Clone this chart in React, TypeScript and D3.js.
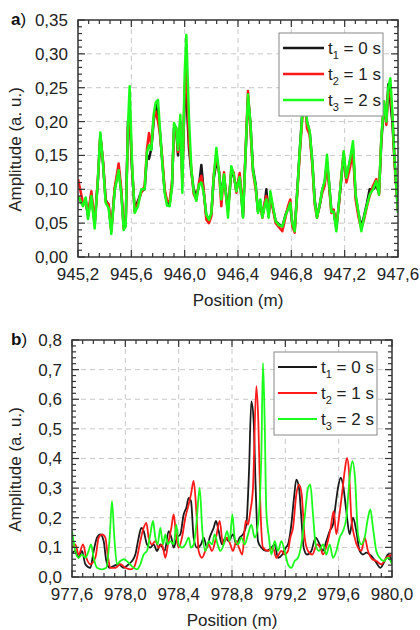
import React from 'react';
import * as d3 from 'd3';

// panel a) positions shared by all three traces
const topPos = [
  945.2, 945.2375, 945.2575, 945.275, 945.3, 945.325, 945.35, 945.3675, 945.3875, 945.4075,
  945.43, 945.45, 945.475, 945.505, 945.525, 945.5425, 945.5575, 945.575, 945.5875, 945.605,
  945.625, 945.65, 945.675, 945.7, 945.7175, 945.7325, 945.75, 945.7675, 945.7825, 945.8,
  945.8125, 945.8325, 945.85, 945.8675, 945.8875, 945.905, 945.92, 945.9375, 945.95, 945.9675,
  945.9825, 946.0, 946.0125, 946.0325, 946.05, 946.0675, 946.0875, 946.1075, 946.125, 946.1425,
  946.1625, 946.1825, 946.2, 946.2175, 946.2375, 946.2575, 946.275, 946.295, 946.3125, 946.325,
  946.35, 946.3675, 946.3875,
  946.4125, 946.4375, 946.4575, 946.475, 946.4925, 946.5125, 946.5325, 946.55, 946.5675, 946.5825,
  946.6, 946.6125, 946.63, 946.6425, 946.6625, 946.6825, 946.7075, 946.7325, 946.7575, 946.775,
  946.7925, 946.8075, 946.825, 946.845, 946.8625, 946.8825, 946.9, 946.9175, 946.9375, 946.9575,
  946.975, 946.9925, 947.0125, 947.0325, 947.05, 947.0675, 947.0825, 947.1, 947.1175, 947.1375,
  947.1575, 947.175, 947.1925, 947.2125, 947.2375, 947.2625, 947.2825, 947.3025, 947.325, 947.345,
  947.3675, 947.3875, 947.4125, 947.4375, 947.4575, 947.475, 947.495, 947.5125, 947.5275, 947.5425,
  947.5575, 947.575, 947.6,
];
const topT1 = [
  0.09, 0.077, 0.085, 0.06, 0.093, 0.048, 0.115, 0.18, 0.14, 0.085,
  0.075, 0.04, 0.1, 0.13, 0.095, 0.045, 0.05, 0.2, 0.21, 0.13,
  0.07, 0.083, 0.097, 0.1, 0.15, 0.145, 0.16, 0.2, 0.225, 0.21,
  0.19, 0.14, 0.097, 0.08, 0.078, 0.105, 0.19, 0.185, 0.15, 0.2,
  0.12, 0.235, 0.24, 0.16, 0.125, 0.1, 0.09, 0.105, 0.136, 0.097,
  0.06, 0.055, 0.063, 0.115, 0.14, 0.127, 0.09, 0.12, 0.09, 0.07,
  0.125, 0.12, 0.1,
  0.12, 0.06, 0.155, 0.235, 0.2, 0.13, 0.107, 0.067, 0.082, 0.06,
  0.077, 0.1, 0.06, 0.09, 0.072, 0.053, 0.048, 0.045, 0.063, 0.072,
  0.075, 0.048, 0.04, 0.1, 0.155, 0.215, 0.24, 0.2, 0.185, 0.14,
  0.085, 0.06, 0.075, 0.1, 0.11, 0.14, 0.11, 0.07, 0.068, 0.042,
  0.08, 0.115, 0.15, 0.115, 0.14, 0.16, 0.09, 0.065, 0.045, 0.06,
  0.08, 0.1, 0.1, 0.105, 0.095, 0.17, 0.225, 0.2, 0.255, 0.23,
  0.2, 0.14, 0.067,
];
const topT2 = [
  0.115, 0.08, 0.082, 0.062, 0.097, 0.05, 0.118, 0.178, 0.142, 0.082,
  0.078, 0.038, 0.102, 0.138, 0.1, 0.042, 0.048, 0.19, 0.22, 0.136,
  0.067, 0.08, 0.095, 0.105, 0.16, 0.183, 0.165, 0.205, 0.215, 0.2,
  0.185, 0.145, 0.1, 0.083, 0.082, 0.11, 0.185, 0.19, 0.155, 0.195,
  0.11, 0.25, 0.28, 0.17, 0.13, 0.093, 0.085, 0.11, 0.12, 0.1,
  0.055, 0.05, 0.06, 0.12, 0.15, 0.125, 0.075, 0.125, 0.085, 0.068,
  0.13, 0.125, 0.095,
  0.124, 0.065, 0.16, 0.245, 0.19, 0.125, 0.1, 0.07, 0.078, 0.058,
  0.08, 0.09, 0.062, 0.093, 0.07, 0.05, 0.044, 0.038, 0.06, 0.075,
  0.085, 0.045, 0.036, 0.095, 0.15, 0.205, 0.235, 0.19, 0.18, 0.135,
  0.078, 0.058, 0.078, 0.095, 0.105, 0.14, 0.105, 0.065, 0.07, 0.045,
  0.078, 0.12, 0.155, 0.11, 0.13, 0.155, 0.085, 0.06, 0.042, 0.055,
  0.075, 0.09, 0.105, 0.115, 0.092, 0.175, 0.23, 0.195, 0.245, 0.24,
  0.21, 0.135, 0.07,
];
const topT3 = [
  0.09, 0.075, 0.088, 0.056, 0.09, 0.042, 0.117, 0.184, 0.138, 0.08,
  0.072, 0.034, 0.098, 0.128, 0.093, 0.04, 0.045, 0.195, 0.252, 0.14,
  0.065, 0.075, 0.1, 0.1, 0.155, 0.165, 0.158, 0.21, 0.228, 0.232,
  0.195, 0.138, 0.095, 0.076, 0.075, 0.103, 0.198, 0.19, 0.158, 0.21,
  0.095, 0.27, 0.328, 0.205, 0.13, 0.097, 0.083, 0.107, 0.11, 0.095,
  0.063, 0.055, 0.065, 0.117, 0.161, 0.125, 0.085, 0.122, 0.087, 0.058,
  0.134, 0.122, 0.097,
  0.118, 0.058, 0.156, 0.24, 0.2, 0.127, 0.105, 0.065, 0.085, 0.058,
  0.075, 0.085, 0.058, 0.097, 0.074, 0.053, 0.047, 0.045, 0.062, 0.07,
  0.08, 0.05, 0.038, 0.097, 0.156, 0.21, 0.245, 0.2, 0.186, 0.141,
  0.082, 0.058, 0.077, 0.1, 0.112, 0.151, 0.112, 0.067, 0.067, 0.038,
  0.082, 0.117, 0.156, 0.117, 0.141, 0.171, 0.092, 0.067, 0.038, 0.058,
  0.077, 0.092, 0.1, 0.112, 0.092, 0.176, 0.23, 0.2, 0.25, 0.264,
  0.215, 0.141, 0.065,
];

// panel b) each trace has its own positions
const botPos1 = [
  977.6, 977.625, 977.65, 977.675, 977.7, 977.7375, 977.7625, 977.7875, 977.8125, 977.8375,
  977.8575, 977.8825, 977.9125, 977.95, 977.9875, 978.025, 978.05, 978.075, 978.1, 978.12,
  978.1375, 978.1625, 978.1875, 978.2125, 978.2375, 978.2625, 978.295, 978.325, 978.345, 978.3625,
  978.3875, 978.4125, 978.4375, 978.4575, 978.475, 978.4925, 978.5125, 978.5375, 978.5675, 978.5875,
  978.6125, 978.6325, 978.6625, 978.68, 978.7, 978.725, 978.75, 978.775,
  978.8075, 978.8325, 978.8575, 978.8825, 978.9075, 978.9275, 978.945, 978.9625, 978.9775, 978.995,
  979.02, 979.0575, 979.095, 979.12, 979.145, 979.1775, 979.2025, 979.22, 979.245, 979.265,
  979.2825, 979.3025, 979.32, 979.3375, 979.3625, 979.395, 979.4275, 979.4575, 979.4825, 979.5075,
  979.5325, 979.5575, 979.5775, 979.595, 979.615, 979.6325, 979.6575, 979.6825, 979.7075, 979.7325,
  979.7575, 979.7825, 979.8075, 979.8325, 979.8575, 979.8825, 979.9125, 979.945, 979.97, 980.0,
];
const botT1 = [
  0.08, 0.088, 0.065, 0.088, 0.043, 0.031, 0.088, 0.133, 0.144, 0.121,
  0.054, 0.031, 0.037, 0.043, 0.031, 0.043, 0.054, 0.076, 0.133, 0.166,
  0.155, 0.11, 0.099, 0.11, 0.088, 0.11, 0.088, 0.155, 0.133, 0.099,
  0.133, 0.144, 0.211, 0.234, 0.267, 0.256, 0.133, 0.099, 0.11, 0.133,
  0.099, 0.133, 0.166, 0.189, 0.155, 0.11, 0.133, 0.121,
  0.144, 0.11, 0.133, 0.144, 0.177, 0.356, 0.593, 0.526, 0.301, 0.121,
  0.099, 0.088, 0.099, 0.11, 0.065, 0.076, 0.099, 0.11, 0.177, 0.267,
  0.329, 0.301, 0.2, 0.099, 0.076, 0.088, 0.133, 0.11, 0.088, 0.121,
  0.155, 0.177, 0.245, 0.301, 0.335, 0.312, 0.222, 0.144, 0.2, 0.155,
  0.088, 0.076, 0.082, 0.076, 0.065, 0.048, 0.031, 0.054, 0.076, 0.054,
];
const botPos2 = [
  977.6, 977.625, 977.65, 977.6825, 977.7075, 977.7375, 977.775, 977.8, 977.825, 977.85,
  977.8675, 977.8875, 977.925, 977.9625, 978.0, 978.0375, 978.0625, 978.0875, 978.1125, 978.1375,
  978.1575, 978.175, 978.2, 978.225, 978.25, 978.275, 978.3, 978.32, 978.345, 978.3625,
  978.3825, 978.4, 978.425, 978.45, 978.475, 978.4925, 978.5125, 978.5325, 978.55, 978.575,
  978.6, 978.625, 978.65, 978.68, 978.7075, 978.7325, 978.7625, 978.7875,
  978.8075, 978.8325, 978.8525, 978.8775, 978.9025, 978.92, 978.9375, 978.9575, 978.9825, 978.9975,
  979.0125, 979.0325, 979.07, 979.1075, 979.1325, 979.17, 979.195, 979.22, 979.2375, 979.2575,
  979.2825, 979.3025, 979.3225, 979.345, 979.37, 979.4025, 979.4375, 979.4625, 979.4825, 979.5125,
  979.54, 979.5625, 979.5825, 979.6025, 979.6275, 979.645, 979.6625, 979.6775, 979.695, 979.72,
  979.745, 979.77, 979.795, 979.82, 979.8525, 979.8825, 979.92, 979.9575, 980.0,
];
const botT2 = [
  0.099, 0.11, 0.076, 0.11, 0.065, 0.043, 0.065, 0.133, 0.144, 0.133,
  0.076, 0.031, 0.031, 0.043, 0.031, 0.026, 0.031, 0.065, 0.121, 0.166,
  0.183, 0.133, 0.11, 0.121, 0.099, 0.11, 0.065, 0.11, 0.166, 0.211,
  0.133, 0.099, 0.133, 0.2, 0.245, 0.279, 0.324, 0.222, 0.088, 0.065,
  0.088, 0.11, 0.088, 0.133, 0.189, 0.11, 0.133, 0.11,
  0.088, 0.121, 0.099, 0.076, 0.189, 0.177, 0.222, 0.301, 0.644, 0.526,
  0.245, 0.099, 0.088, 0.099, 0.065, 0.088, 0.076, 0.088, 0.133, 0.166,
  0.279, 0.312, 0.279, 0.133, 0.088, 0.076, 0.11, 0.099, 0.076, 0.11,
  0.166, 0.222, 0.144, 0.2, 0.29, 0.357, 0.402, 0.357, 0.2, 0.133,
  0.099, 0.088, 0.133, 0.088, 0.06, 0.054, 0.043, 0.065, 0.076,
];
const botPos3 = [
  977.6, 977.625, 977.65, 977.675, 977.7, 977.725, 977.7425, 977.7625, 977.7875, 977.825,
  977.8575, 977.8825, 977.9, 977.9175, 977.9375, 977.9625, 977.9875, 978.025, 978.0625, 978.0875,
  978.1125, 978.1375, 978.1625, 978.1875, 978.2075, 978.225, 978.2425, 978.2625, 978.2825, 978.3,
  978.3175, 978.3375, 978.3625, 978.3825, 978.4, 978.425, 978.45, 978.475, 978.4925, 978.5125,
  978.5325, 978.5575, 978.5775, 978.6, 978.625, 978.65, 978.67, 978.6925, 978.7125, 978.7375,
  978.7625, 978.7825,
  978.8025, 978.82, 978.845, 978.87, 978.895, 978.92, 978.945, 978.97, 978.995, 979.02,
  979.0325, 979.045, 979.0575, 979.0775, 979.095, 979.12, 979.145, 979.17, 979.195, 979.22,
  979.245, 979.27, 979.295, 979.32, 979.345, 979.37, 979.3875, 979.4075, 979.4275, 979.4525,
  979.4825, 979.5075, 979.5325, 979.5575, 979.5825, 979.6075, 979.6325, 979.6575, 979.6825, 979.7025,
  979.7225, 979.745, 979.77, 979.795, 979.82, 979.8375, 979.8575, 979.8825, 979.9075, 979.9375,
  979.97, 980.0,
];
const botT3 = [
  0.155, 0.088, 0.065, 0.076, 0.065, 0.088, 0.11, 0.065, 0.031, 0.026,
  0.031, 0.133, 0.256, 0.133, 0.043, 0.054, 0.06, 0.048, 0.031, 0.026,
  0.043, 0.076, 0.088, 0.144, 0.189, 0.133, 0.11, 0.166, 0.11, 0.144,
  0.11, 0.121, 0.11, 0.177, 0.11, 0.099, 0.11, 0.133, 0.099, 0.11,
  0.177, 0.301, 0.155, 0.088, 0.121, 0.11, 0.144, 0.11, 0.088, 0.11,
  0.155, 0.121,
  0.211, 0.133, 0.11, 0.133, 0.11, 0.144, 0.177, 0.133, 0.177, 0.413,
  0.722, 0.526, 0.222, 0.133, 0.076, 0.121, 0.088, 0.121, 0.088, 0.043,
  0.031, 0.054, 0.065, 0.11, 0.2, 0.301, 0.312, 0.211, 0.11, 0.088,
  0.11, 0.076, 0.11, 0.065, 0.088, 0.133, 0.155, 0.2, 0.335, 0.391,
  0.335, 0.144, 0.11, 0.133, 0.2, 0.228, 0.166, 0.088, 0.065, 0.054,
  0.065, 0.043,
];

const legendLabels = [
  { sub: '1', rest: ' = 0 s' },
  { sub: '2', rest: ' = 1 s' },
  { sub: '3', rest: ' = 2 s' },
];
const colors = ['#1a1a1a', '#ff1a1a', '#1aff1a'];

const topXTicks = [945.2, 945.6, 946.0, 946.4, 946.8, 947.2, 947.6];
const topYTicks = [0, 0.05, 0.1, 0.15, 0.2, 0.25, 0.3, 0.35];
const botXTicks = [977.6, 978.0, 978.4, 978.8, 979.2, 979.6, 980.0];
const botYTicks = [0, 0.1, 0.2, 0.3, 0.4, 0.5, 0.6, 0.7, 0.8];

const FONT = '"Liberation Sans", Arial, sans-serif';
const comma = (v: number, digits: number) => v.toFixed(digits).replace('.', ',');

type Series = { pos: number[]; val: number[] };

type PanelProps = {
  id: string;
  tag: string;
  left: number;
  right: number;
  top: number;
  bottom: number;
  xDomain: [number, number];
  yDomain: [number, number];
  xTicks: number[];
  yTicks: number[];
  xMinorStep: number;
  yMinorStep: number;
  yDigits: number;
  series: Series[];
  curve: d3.CurveFactory;
  lineWidth: number;
  legend: { x: number; y: number; w: number; h: number; lineLen: number };
};

const Panel = (p: PanelProps) => {
  const x = d3.scaleLinear().domain(p.xDomain).range([p.left, p.right]);
  const y = d3.scaleLinear().domain(p.yDomain).range([p.bottom, p.top]);

  const xMinor = d3.range(p.xDomain[0], p.xDomain[1] + 1e-9, p.xMinorStep);
  const yMinor = d3.range(p.yDomain[0], p.yDomain[1] + 1e-9, p.yMinorStep);

  const line = d3
    .line<[number, number]>()
    .x((d) => x(d[0]))
    .y((d) => y(d[1]))
    .curve(p.curve);

  const axisColor = '#333';
  const major = 7;
  const minor = 4;

  return (
    <g>
      <defs>
        <clipPath id={p.id}>
          <rect x={p.left} y={p.top} width={p.right - p.left} height={p.bottom - p.top} />
        </clipPath>
      </defs>

      {/* grid */}
      {p.xTicks.slice(1, -1).map((t) => (
        <line key={'gx' + t} x1={x(t)} x2={x(t)} y1={p.top} y2={p.bottom}
          stroke="#c8c8c8" strokeDasharray="5,4" />
      ))}
      {p.yTicks.slice(1, -1).map((t) => (
        <line key={'gy' + t} x1={p.left} x2={p.right} y1={y(t)} y2={y(t)}
          stroke="#c8c8c8" strokeDasharray="5,4" />
      ))}

      {/* traces */}
      <g clipPath={`url(#${p.id})`}>
        {p.series.map((s, i) => {
          const pts: [number, number][] = s.pos
            .map((v, j) => [v, s.val[j]] as [number, number])
            .filter((d) => d[1] != null);
          return (
            <path key={i} d={line(pts) || ''} fill="none" stroke={colors[i]}
              strokeWidth={p.lineWidth} strokeLinejoin="round" />
          );
        })}
      </g>

      {/* ticks, inward on all four sides */}
      {xMinor.map((t, i) => {
        const isMajor = p.xTicks.some((m) => Math.abs(m - t) < 1e-6);
        const len = isMajor ? major : minor;
        return (
          <g key={'tx' + i} stroke={axisColor} strokeWidth={1.2}>
            <line x1={x(t)} x2={x(t)} y1={p.bottom} y2={p.bottom - len} />
            <line x1={x(t)} x2={x(t)} y1={p.top} y2={p.top + len} />
          </g>
        );
      })}
      {yMinor.map((t, i) => {
        const isMajor = p.yTicks.some((m) => Math.abs(m - t) < 1e-6);
        const len = isMajor ? major : minor;
        return (
          <g key={'ty' + i} stroke={axisColor} strokeWidth={1.2}>
            <line x1={p.left} x2={p.left + len} y1={y(t)} y2={y(t)} />
            <line x1={p.right} x2={p.right - len} y1={y(t)} y2={y(t)} />
          </g>
        );
      })}

      <rect x={p.left} y={p.top} width={p.right - p.left} height={p.bottom - p.top}
        fill="none" stroke={axisColor} strokeWidth={1.5} />

      {/* tick labels */}
      {p.xTicks.map((t) => (
        <text key={'lx' + t} x={x(t)} y={p.bottom + 23} textAnchor="middle"
          fontSize={17} fill="#222">{comma(t, 1)}</text>
      ))}
      {p.yTicks.map((t) => (
        <text key={'ly' + t} x={p.left - 10} y={y(t)} dy="0.35em" textAnchor="end"
          fontSize={17} fill="#222">{comma(t, p.yDigits)}</text>
      ))}

      {/* axis titles */}
      <text x={(p.left + p.right) / 2} y={p.bottom + 49} textAnchor="middle"
        fontSize={17} fill="#222">Position (m)</text>
      <text transform={`translate(21,${(p.top + p.bottom) / 2 + 11}) rotate(-90)`}
        textAnchor="middle" fontSize={17} fill="#222">Amplitude (a. u.)</text>

      {/* panel tag */}
      <text x={11} y={p.top + 5} fontSize={17} fill="#111">
        <tspan fontWeight="bold">{p.tag}</tspan>)
      </text>

      {/* legend */}
      <rect x={p.legend.x} y={p.legend.y} width={p.legend.w} height={p.legend.h}
        fill="#fff" stroke="#888" strokeWidth={1} />
      {legendLabels.map((l, i) => {
        const rowY = p.legend.y + 15 + i * 26;
        return (
          <g key={'lg' + i}>
            <line x1={p.legend.x + 4} x2={p.legend.x + 4 + p.legend.lineLen} y1={rowY} y2={rowY}
              stroke={colors[i]} strokeWidth={p.lineWidth} />
            <text x={p.legend.x + 8 + p.legend.lineLen} y={rowY + 6} fontSize={17} fill="#222">
              t<tspan fontSize={11} dy={5}>{l.sub}</tspan>
              <tspan dy={-5}>{l.rest}</tspan>
            </text>
          </g>
        );
      })}
    </g>
  );
};

export default function App() {
  return (
    <svg width={420} height={630} style={{ position: 'absolute', left: 0, top: 0, background: '#fff' }}
      fontFamily={FONT}>
      <Panel
        id="clipA" tag="a"
        left={78} right={398} top={20} bottom={257}
        xDomain={[945.2, 947.6]} yDomain={[0, 0.35]}
        xTicks={topXTicks} yTicks={topYTicks}
        xMinorStep={0.08} yMinorStep={0.01} yDigits={2}
        series={[
          { pos: topPos, val: topT1 },
          { pos: topPos, val: topT2 },
          { pos: topPos, val: topT3 },
        ]}
        curve={d3.curveLinear}
        lineWidth={2.5}
        legend={{ x: 279, y: 33, w: 104, h: 83, lineLen: 41 }}
      />
      <Panel
        id="clipB" tag="b"
        left={72} right={392} top={340} bottom={577}
        xDomain={[977.6, 980.0]} yDomain={[0, 0.8]}
        xTicks={botXTicks} yTicks={botYTicks}
        xMinorStep={0.08} yMinorStep={0.02} yDigits={1}
        series={[
          { pos: botPos1, val: botT1 },
          { pos: botPos2, val: botT2 },
          { pos: botPos3, val: botT3 },
        ]}
        curve={d3.curveMonotoneX}
        lineWidth={1.8}
        legend={{ x: 274, y: 352, w: 103, h: 83, lineLen: 39 }}
      />
    </svg>
  );
}
